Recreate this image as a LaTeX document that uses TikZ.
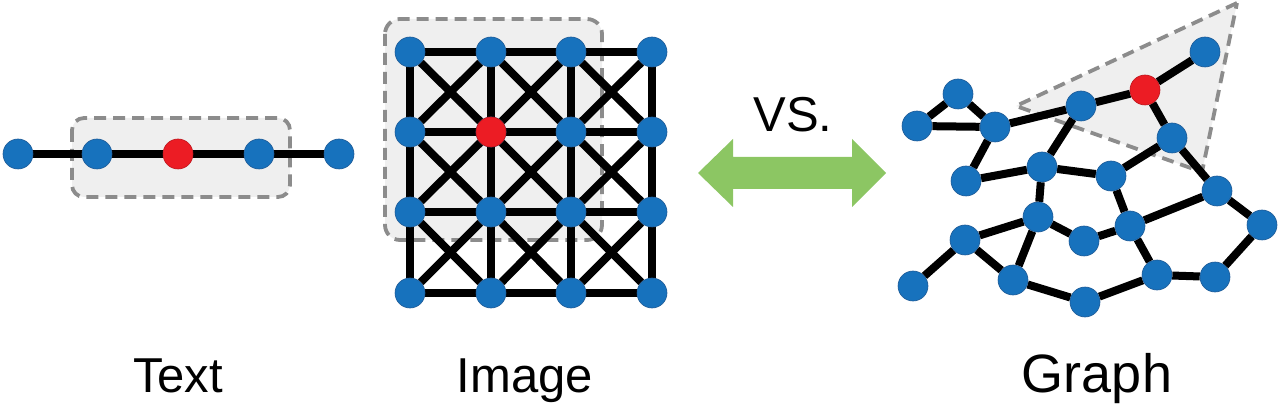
\documentclass[tikz,border=0pt]{standalone}
\usepackage{fontspec}
\setmainfont{Liberation Sans}
\pgfdeclarelayer{boxlayer}
\pgfdeclarelayer{edgelayer}
\pgfsetlayers{boxlayer,edgelayer,main}
\definecolor{nblue}{RGB}{23,114,189}
\definecolor{nblueline}{RGB}{30,90,150}
\definecolor{nred}{RGB}{236,28,36}
\definecolor{ngreen}{RGB}{140,198,99}
\definecolor{boxfill}{RGB}{239,239,239}
\definecolor{boxline}{RGB}{140,140,140}
\tikzset{
  bnode/.style={circle, fill=nblue, draw=nblueline, line width=0.6pt, minimum size=30pt, inner sep=0pt},
  rnode/.style={circle, fill=nred, draw=nred!80!black, line width=0.6pt, minimum size=30pt, inner sep=0pt},
  edge/.style={line width=8pt, black},
  hlbox/.style={fill=boxfill, draw=boxline, line width=3.8pt, dash pattern=on 12pt off 7pt},
  lbl/.style={font=\fontsize{49}{55}\selectfont, anchor=base, inner sep=0pt}
}
\begin{document}
\begin{tikzpicture}[x=1pt, y=-1pt]
\useasboundingbox (0,0) rectangle (1280,406);
% ---------- Text ----------
\node[bnode] (t1) at (18,154) {};
\node[bnode] (t2) at (97,154) {};
\node[rnode] (t3) at (178,154) {};
\node[bnode] (t4) at (259,154) {};
\node[bnode] (t5) at (339,154) {};
\begin{pgfonlayer}{boxlayer}
  \draw[hlbox, rounded corners=12pt] (72,118) rectangle (290,197);
\end{pgfonlayer}
\begin{pgfonlayer}{edgelayer}
  \draw[edge] (t1) -- (t2) -- (t3) -- (t4) -- (t5);
\end{pgfonlayer}
% ---------- Image ----------
\foreach \i/\y in {1/52, 2/132, 3/212, 4/293}{
  \foreach \j/\x in {1/410, 2/491, 3/571, 4/652}{
    \node[bnode] (g\i\j) at (\x,\y) {};
  }
}
\node[rnode] at (g22) {};
\begin{pgfonlayer}{boxlayer}
  \draw[hlbox, rounded corners=15pt] (385,19) rectangle (602,240);
\end{pgfonlayer}
\begin{pgfonlayer}{edgelayer}
  \foreach \i in {1,...,4}{
    \draw[edge] (g\i1) -- (g\i2) -- (g\i3) -- (g\i4);
    \draw[edge] (g1\i) -- (g2\i) -- (g3\i) -- (g4\i);
  }
  \foreach \i/\ni in {1/2, 2/3, 3/4}{
    \foreach \j/\nj in {1/2, 2/3, 3/4}{
      \draw[edge] (g\i\j) -- (g\ni\nj);
      \draw[edge] (g\i\nj) -- (g\ni\j);
    }
  }
\end{pgfonlayer}
% ---------- VS arrow ----------
\coordinate (al) at (698,173);
\coordinate (ar) at (886,173);
\fill[ngreen] (al) -- (733,139) -- (733,157) -- (852,157) -- (852,139) -- (ar)
  -- (852,207) -- (852,189) -- (733,189) -- (733,207) -- cycle;
\node[lbl] (vs) at (793,132) {VS.};
% ---------- Graph ----------
\node[bnode] (n1) at (1205,52) {};
\node[rnode] (n2) at (1145,90) {};
\node[bnode] (n3) at (1081,106) {};
\node[bnode] (n4) at (995,127) {};
\node[bnode] (n5) at (958,94) {};
\node[bnode] (n6) at (917,126) {};
\node[bnode] (n7) at (1172,138) {};
\node[bnode] (n8) at (1042,167) {};
\node[bnode] (n9) at (1111,176) {};
\node[bnode] (n10) at (966,181) {};
\node[bnode] (n11) at (1217,191) {};
\node[bnode] (n12) at (1038,217) {};
\node[bnode] (n13) at (1130,226) {};
\node[bnode] (n14) at (1084,241) {};
\node[bnode] (n15) at (965,240) {};
\node[bnode] (n16) at (1262,225) {};
\node[bnode] (n17) at (913,286) {};
\node[bnode] (n18) at (1013,280) {};
\node[bnode] (n19) at (1157,275) {};
\node[bnode] (n20) at (1215,277) {};
\node[bnode] (n21) at (1085,302) {};
\begin{pgfonlayer}{boxlayer}
  \draw[hlbox, line join=miter] (1237,3) -- (1016,106) -- (1202,172) -- cycle;
\end{pgfonlayer}
\begin{pgfonlayer}{edgelayer}
  \foreach \a/\b in {1/2, 2/3, 2/7, 3/4, 4/5, 5/6, 6/4, 3/8, 4/10, 10/8, 8/9, 9/7,
                     7/11, 8/12, 9/13, 12/15, 12/14, 14/13, 12/18, 13/11, 13/19,
                     11/16, 16/20, 20/19, 19/21, 21/18, 18/15, 15/17}{
    \draw[edge] (n\a) -- (n\b);
  }
\end{pgfonlayer}
% ---------- Labels ----------
\node[lbl] (ltext) at (178,392) {Text};
\node[lbl] (limage) at (525,392) {Image};
\node[lbl, font=\fontsize{54}{60}\selectfont] (lgraph) at (1097,392) {Graph};
\end{tikzpicture}
\end{document}
